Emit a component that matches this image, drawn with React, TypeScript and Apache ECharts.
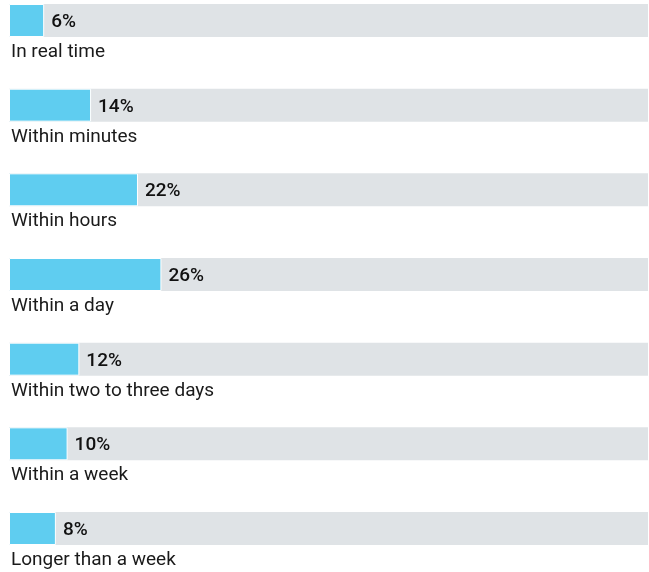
import React, { useEffect, useRef } from "react";
import * as echarts from "echarts";

const categories = [
  "In real time",
  "Within minutes",
  "Within hours",
  "Within a day",
  "Within two to three days",
  "Within a week",
  "Longer than a week",
];
const values = [6, 14, 22, 26, 12, 10, 8];
const scaleMax = 109;
const backgroundValues = categories.map(() => scaleMax);

export default function App() {
  const ref = useRef<HTMLDivElement>(null);
  useEffect(() => {
    if (!ref.current) return;
    const chart = echarts.init(ref.current, null, { renderer: "svg" });
    chart.setOption({
      animation: false,
      grid: { left: 9, right: 1, top: 20.5, height: 508, containLabel: false },
      xAxis: { type: "value", min: 0, max: scaleMax, show: false },
      yAxis: {
        type: "category",
        data: categories,
        inverse: true,
        boundaryGap: false,
        show: false,
      },
      series: [
        {
          type: "bar",
          data: backgroundValues,
          barWidth: 33,
          itemStyle: { color: "#dfe3e6" },
          silent: true,
          label: {
            show: true,
            position: "insideLeft",
            distance: 2,
            offset: [0, 30],
            formatter: (p: any) => categories[p.dataIndex],
            fontFamily: "Roboto",
            fontSize: 19,
            color: "#1a1a1a",
          },
          z: 1,
        },
        {
          type: "bar",
          data: values,
          barWidth: 33,
          barGap: "-100%",
          itemStyle: { color: "#5fcdf0", borderColor: "#ffffff", borderWidth: 1 },
          label: {
            show: true,
            position: "right",
            distance: 7,
            formatter: "{c}%",
            fontFamily: "Roboto",
            fontWeight: 500,
            fontSize: 19,
            color: "#111111",
          },
          z: 2,
        },
      ],
    });
    return () => chart.dispose();
  }, []);
  return (
    <div
      ref={ref}
      style={{ position: "fixed", left: 0, top: 0, width: 649, height: 572 }}
    />
  );
}
